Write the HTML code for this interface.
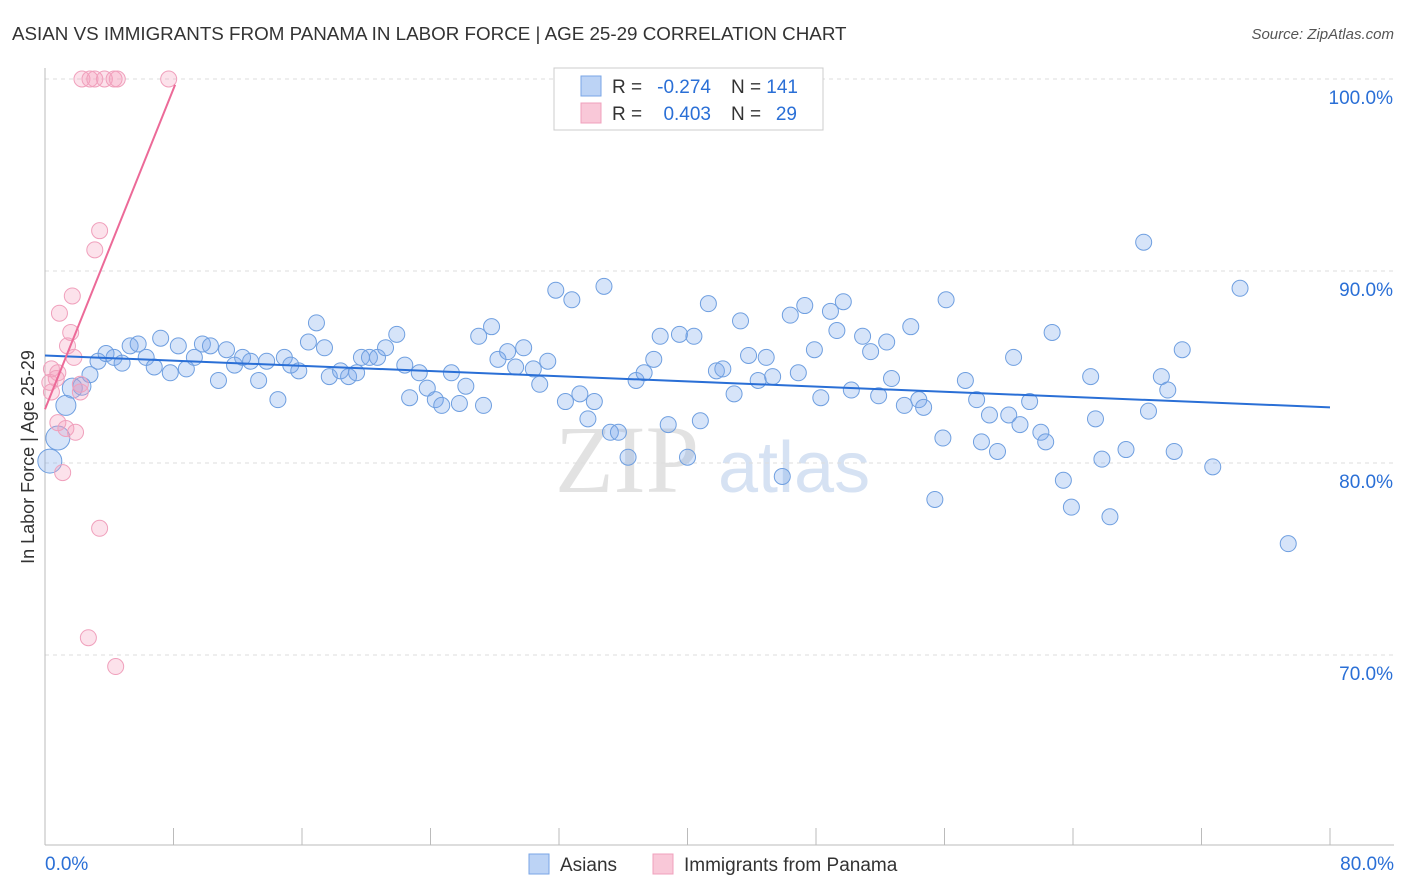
<!DOCTYPE html>
<html><head><meta charset="utf-8"><style>
body{margin:0;background:#fff;font-family:"Liberation Sans",sans-serif;}
svg{display:block}
</style></head><body>
<svg id="chart" width="1406" height="892">
<text x="12" y="40" font-size="18.8" fill="#333">ASIAN VS IMMIGRANTS FROM PANAMA IN LABOR FORCE | AGE 25-29 CORRELATION CHART</text>
<text x="1394" y="39" font-size="15" fill="#555" font-style="italic" text-anchor="end">Source: ZipAtlas.com</text>
<text x="34" y="457" font-size="18" fill="#333" text-anchor="middle" transform="rotate(-90 34 457)">In Labor Force | Age 25-29</text>
<text x="555" y="492" font-size="96" fill="#e2e2e2" font-family="Liberation Serif,serif">ZIP</text>
<text x="718" y="492" font-size="72" fill="#d6e2f3">atlas</text>
<g id="grid"></g><g id="pts"></g><g id="lines"></g>
<g>
<rect x="554" y="68" width="269" height="62" fill="#fff" stroke="#ccc"/>
<rect x="581" y="76" width="20" height="20" fill="#bcd3f5" stroke="#7aa6e6"/>
<rect x="581" y="103" width="20" height="20" fill="#f9c8d8" stroke="#f0a0bc"/>
<text x="612" y="93" font-size="19" fill="#333">R =</text>
<text x="711" y="93" font-size="19" fill="#2a6fd6" text-anchor="end">-0.274</text>
<text x="731" y="93" font-size="19" fill="#333">N =</text>
<text x="798" y="93" font-size="19" fill="#2a6fd6" text-anchor="end">141</text>
<text x="612" y="120" font-size="19" fill="#333">R =</text>
<text x="711" y="120" font-size="19" fill="#2a6fd6" text-anchor="end">0.403</text>
<text x="731" y="120" font-size="19" fill="#333">N =</text>
<text x="797" y="120" font-size="19" fill="#2a6fd6" text-anchor="end">29</text>
</g>
<g>
<rect x="529" y="854" width="20" height="20" fill="#bcd3f5" stroke="#7aa6e6"/>
<text x="560" y="871" font-size="19" fill="#333">Asians</text>
<rect x="653" y="854" width="20" height="20" fill="#f9c8d8" stroke="#f0a0bc"/>
<text x="684" y="871" font-size="19" fill="#333">Immigrants from Panama</text>
</g>
</svg>
<script>
const xTicks=[0,8,16,24,32,40,48,56,64,72,80];
const yTicks=[70,80,90,100];
const blueX=[0.3,0.8,1.3,1.7,2.3,2.8,3.3,3.8,4.3,4.8,5.3,5.8,6.3,6.8,7.2,7.8,8.3,8.8,9.3,9.8,10.3,10.8,11.3,11.8,12.3,12.8,13.3,13.8,14.5,14.9,15.3,15.8,16.4,16.9,17.4,17.7,18.4,18.9,19.4,19.7,20.2,20.7,21.2,21.9,22.4,22.7,23.3,23.8,24.3,24.7,25.3,25.8,26.2,27.0,27.3,27.8,28.2,28.8,29.3,29.8,30.4,30.8,31.3,31.8,32.4,32.8,33.3,33.8,34.2,34.8,35.2,35.7,36.3,36.8,37.3,37.9,38.3,38.8,39.5,40.0,40.4,40.8,41.3,41.8,42.2,42.9,43.3,43.8,44.4,44.9,45.3,45.9,46.9,46.4,47.3,47.9,48.3,48.9,49.3,49.7,50.2,50.9,51.4,51.9,52.4,52.7,53.5,53.9,54.4,54.7,55.4,55.9,56.1,57.3,58.0,58.3,58.8,59.3,60.0,60.7,61.3,62.0,62.3,62.7,60.3,63.4,63.9,65.1,65.4,65.8,66.3,67.3,68.4,68.7,69.5,69.9,70.3,70.8,72.7,74.4,77.4];
const blueY=[80.1,81.3,83.0,83.9,84.0,84.6,85.3,85.7,85.5,85.2,86.1,86.2,85.5,85.0,86.5,84.7,86.1,84.9,85.5,86.2,86.1,84.3,85.9,85.1,85.5,85.3,84.3,85.3,83.3,85.5,85.1,84.8,86.3,87.3,86.0,84.5,84.8,84.5,84.7,85.5,85.5,85.5,86.0,86.7,85.1,83.4,84.7,83.9,83.3,83.0,84.7,83.1,84.0,86.6,83.0,87.1,85.4,85.8,85.0,86.0,84.9,84.1,85.3,89.0,83.2,88.5,83.6,82.3,83.2,89.2,81.6,81.6,80.3,84.3,84.7,85.4,86.6,82.0,86.7,80.3,86.6,82.2,88.3,84.8,84.9,83.6,87.4,85.6,84.3,85.5,84.5,79.3,84.7,87.7,88.2,85.9,83.4,87.9,86.9,88.4,83.8,86.6,85.8,83.5,86.3,84.4,83.0,87.1,83.3,82.9,78.1,81.3,88.5,84.3,83.3,81.1,82.5,80.6,82.5,82.0,83.2,81.6,81.1,86.8,85.5,79.1,77.7,84.5,82.3,80.2,77.2,80.7,91.5,82.7,84.5,83.8,80.6,85.9,79.8,89.1,75.8];
const blueR=[12,12,10,10,9];
const pinkX=[2.3,2.8,3.1,3.7,4.3,4.5,7.7,3.4,3.1,1.7,0.9,1.6,1.4,1.8,0.4,0.8,0.7,0.3,2.2,0.4,2.2,0.8,1.3,1.9,1.1,3.4,2.7,4.4];
const pinkY=[100,100,100,100,100,100,100,92.1,91.1,88.7,87.8,86.8,86.1,85.5,84.9,84.7,84.4,84.2,83.7,83.7,84.1,82.1,81.8,81.6,79.5,76.6,70.9,69.4];
const blueTrend=[0,85.6,80,82.9];
const pinkTrend=[0,82.8,8.1,99.7];
const X=v=>45+v/80*1285, Y=v=>79+(100-v)*19.2;
const NS="http://www.w3.org/2000/svg";
function mk(t,a,p){const e=document.createElementNS(NS,t);for(const k in a)e.setAttribute(k,a[k]);p.appendChild(e);return e;}
const g=document.getElementById('grid');
yTicks.forEach(t=>{
 const l=mk('line',{x1:45,x2:1394,y1:Y(t),y2:Y(t),stroke:'#ddd','stroke-dasharray':'4,4'},g);
 
 
 const tx=mk('text',{x:1393,y:Y(t)+25,'font-size':19,fill:'#2a6fd6','text-anchor':'end'},g);
 tx.textContent=t.toFixed(1)+'%';
 
 
});
const ax=mk('line',{x1:45,x2:45,y1:68,y2:845,stroke:'#bbb'},g);


const bx=mk('line',{x1:45,x2:1394,y1:845,y2:845,stroke:'#bbb'},g);


xTicks.forEach(t=>{
 const l=mk('line',{x1:X(t),x2:X(t),y1:828,y2:845,stroke:'#bbb'},g);
 
 
});
[[0,'start',45],[80,'end',1394]].forEach(([v,a,x])=>{
 const tx=mk('text',{x:x,y:870,'font-size':19,fill:'#2a6fd6','text-anchor':a},g);
 tx.textContent=v.toFixed(1)+'%';
 
 
});
const P=document.getElementById('pts');
blueX.forEach((v,i)=>{
 const c=mk('circle',{cx:X(v),cy:Y(blueY[i]),r:i<blueR.length?blueR[i]:8,fill:'rgba(120,165,235,0.3)',stroke:'#6f9fe0','stroke-width':1},P);
 
 
});
pinkX.forEach((v,i)=>{
 const c=mk('circle',{cx:X(v),cy:Y(pinkY[i]),r:8,fill:'rgba(245,160,190,0.3)',stroke:'#f0a0bc','stroke-width':1},P);
 
 
});
const L=document.getElementById('lines');
const bl=mk('line',{x1:X(blueTrend[0]),y1:Y(blueTrend[1]),x2:X(blueTrend[2]),y2:Y(blueTrend[3]),stroke:'#2a6fd6','stroke-width':2},L);


const pl=mk('line',{x1:X(pinkTrend[0]),y1:Y(pinkTrend[1]),x2:X(pinkTrend[2]),y2:Y(pinkTrend[3]),stroke:'#ec6a98','stroke-width':2},L);


</script>
</body></html>
